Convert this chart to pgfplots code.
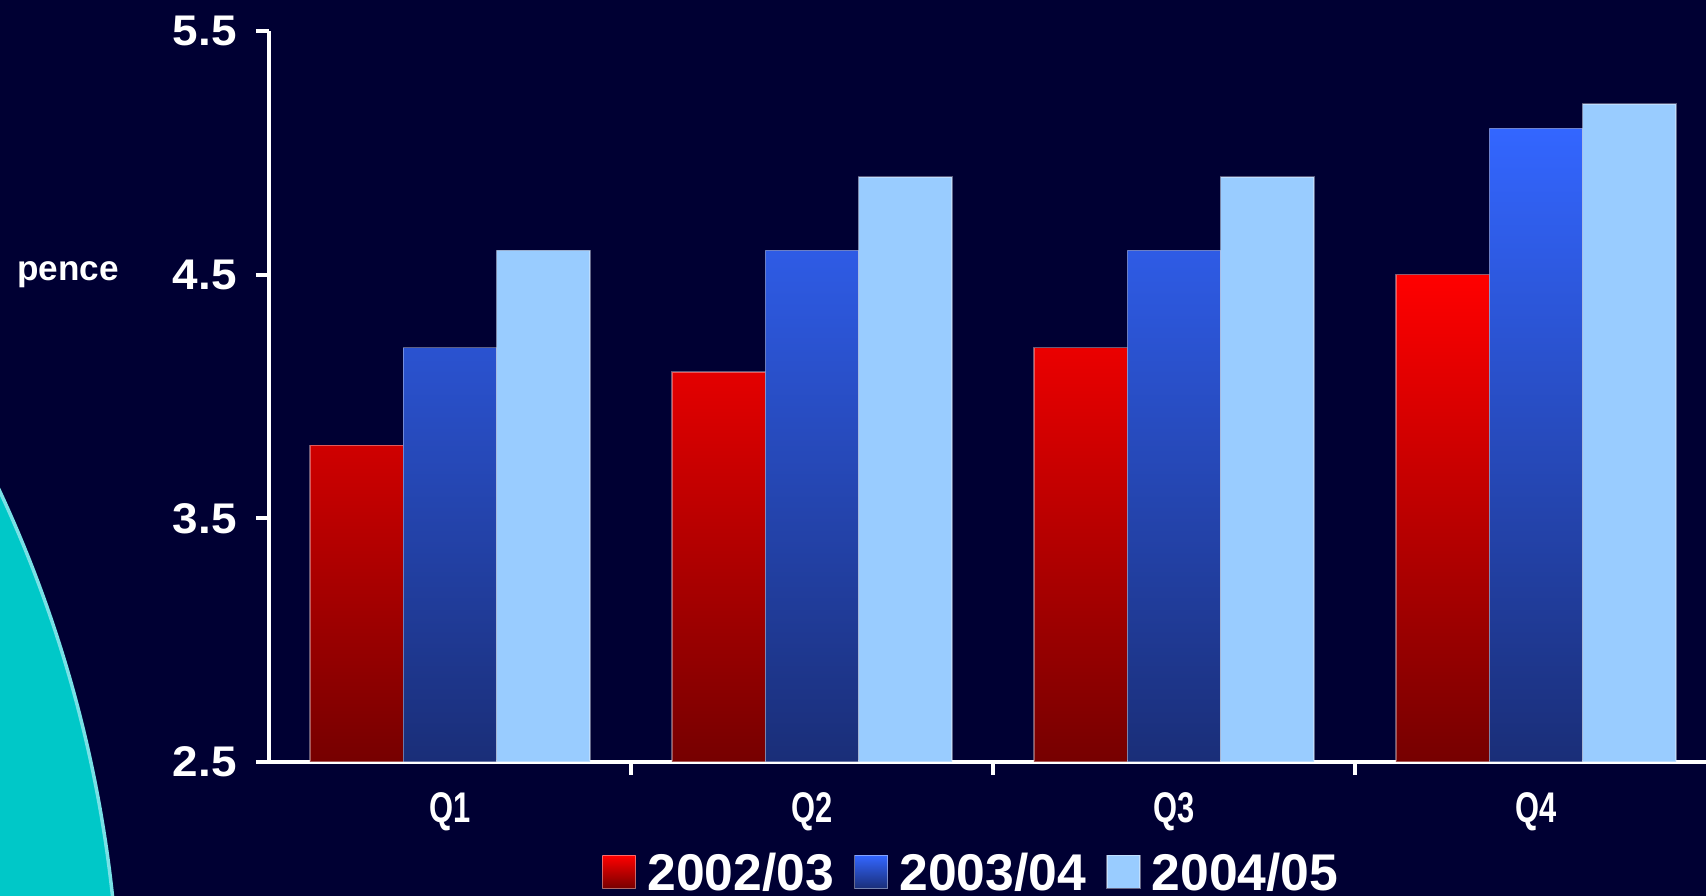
\documentclass[border=0pt]{standalone}
\usepackage{fontspec}
\setmainfont{Liberation Sans}
\newfontfamily\narrowsans[FakeStretch=0.72]{Liberation Sans}
\newfontfamily\widesans[FakeStretch=1.07]{Liberation Sans}
\usepackage{pgfplots}
\pgfplotsset{compat=1.18}

\definecolor{bg}{RGB}{0,0,51}
\definecolor{redtop}{RGB}{255,0,0}
\definecolor{redbot}{RGB}{118,0,0}
\definecolor{bluetop}{RGB}{51,102,255}
\definecolor{bluebot}{RGB}{26,46,120}
\definecolor{lightblue}{RGB}{153,204,255}
\definecolor{cyanshape}{RGB}{0,200,200}
\definecolor{cyanedge}{RGB}{120,225,230}

\pgfplotsset{
  sq legend/.style={legend image code/.code={
    \draw[##1, draw=white, draw opacity=0.4, line width=0.4pt]
      (0mm,-1.45mm) rectangle (3.3mm,1.85mm);}},
}

\begin{document}
\begin{tikzpicture}
\useasboundingbox (0,0) rectangle (17.06,8.96);
\fill[bg] (0,0) rectangle (17.06,8.96);
% decorative disc in the lower left corner
\begin{scope}
  \clip (0,0) rectangle (17.06,8.96);
  \fill[cyanshape, draw=cyanedge, line width=0.35mm] (-11.71,-1.40) circle (12.91);
\end{scope}

\begin{axis}[
  at={(2.69cm,1.34cm)}, anchor=south west,
  scale only axis, width=14.37cm, height=7.31cm,
  xmin=-0.5, xmax=3.4696,
  % values are shifted so that bars grow from the 2.5 baseline
  ymin=0, ymax=3,
  y filter/.expression={y-2.5},
  axis x line=bottom, axis y line=left,
  axis line style={white, line width=1.1pt, -},
  tick align=outside, major tick length=1.3mm,
  tick style={white, line width=1.1pt},
  ytick={0,1,2,3},
  yticklabels={2.5,3.5,4.5,5.5},
  yticklabel style={font=\widesans\fontsize{12.2}{14}\selectfont\bfseries, text=white, xshift=-0.7mm},
  xtick={0.5,1.5,2.5}, xticklabels={},
  extra x ticks={0,1,2,3},
  extra x tick labels={Q1,Q2,Q3,Q4},
  extra x tick style={major tick length=0pt,
    tick label style={font=\narrowsans\fontsize{12.2}{14}\selectfont\bfseries, text=white, yshift=-1.8mm}},
  ylabel={pence},
  every axis y label/.style={at={(rel axis cs:0,0.6667)}, anchor=center, xshift=-2.01cm,
    font=\fontsize{10}{12}\selectfont\bfseries, text=white},
  legend style={at={(0.49,0)}, anchor=center, yshift=-11.2mm,
    draw=none, fill=none, text=white,
    font=\fontsize{14.7}{17}\selectfont\bfseries,
    nodes={inner xsep=0.6mm, inner ysep=0mm},
    /tikz/every odd column/.append style={column sep=0.5mm},
    /tikz/every even column/.append style={column sep=1.4mm}},
  legend columns=-1,
  ybar, bar width=0.258,
]
\addplot[ybar, bar shift=-0.258, top color=redtop, bottom color=redbot,
  draw=white, draw opacity=0.35, line width=0.4pt, sq legend]
  coordinates {(0,3.8) (1,4.1) (2,4.2) (3,4.5)};
\addplot[ybar, bar shift=0, top color=bluetop, bottom color=bluebot,
  draw=white, draw opacity=0.35, line width=0.4pt, sq legend]
  coordinates {(0,4.2) (1,4.6) (2,4.6) (3,5.1)};
\addplot[ybar, bar shift=0.258, fill=lightblue,
  draw=white, draw opacity=0.35, line width=0.4pt, sq legend]
  coordinates {(0,4.6) (1,4.9) (2,4.9) (3,5.2)};
\legend{2002/03,2003/04,2004/05}
\end{axis}
\end{tikzpicture}
\end{document}
